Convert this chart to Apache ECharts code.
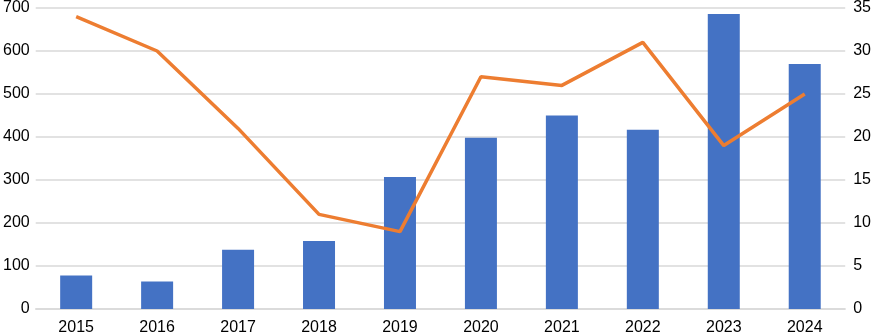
<!DOCTYPE html>
<html>
<head>
<meta charset="utf-8">
<script src="https://cdn.jsdelivr.net/npm/echarts@6/dist/echarts.min.js"></script>
<style>
  html, body { margin: 0; padding: 0; background: #fff; }
  #chart { width: 874px; height: 336px; }
</style>
</head>
<body>
<div id="chart"></div>
<script>
// 年份
var years = ['2015', '2016', '2017', '2018', '2019', '2020', '2021', '2022', '2023', '2024']
// 柱状图（左轴）
var barValues = [78, 64, 138, 158, 307, 398, 450, 417, 686, 570]
// 折线（右轴）
var lineValues = [34, 30, 21, 11, 9, 27, 26, 31, 19, 25]

var myChart = echarts.init(document.getElementById('chart'), null, { renderer: 'canvas' })

var labelStyle = {
  color: '#000',
  fontSize: 16,
  fontFamily: '"Liberation Sans", Arial, sans-serif'
}

myChart.setOption({
  animation: false,
  grid: {
    left: 35,
    right: 25,
    top: 5,
    bottom: 26,
    containLabel: false
  },
  xAxis: {
    type: 'category',
    data: years,
    axisTick: { show: false },
    axisLine: { show: true, lineStyle: { color: '#d9d9d9', width: 1.5 } },
    axisLabel: Object.assign({ margin: 11 }, labelStyle)
  },
  yAxis: [{
    type: 'value',
    min: 0,
    max: 700,
    interval: 100,
    axisLine: { show: false },
    axisTick: { show: false },
    splitLine: { lineStyle: { color: '#d9d9d9', width: 1.5 } },
    axisLabel: Object.assign({ margin: 6 }, labelStyle)
  }, {
    type: 'value',
    min: 0,
    max: 35,
    interval: 5,
    axisLine: { show: false },
    axisTick: { show: false },
    splitLine: { show: false },
    axisLabel: Object.assign({ margin: 8, align: 'left' }, labelStyle)
  }],
  series: [{
    name: 'bar',
    type: 'bar',
    yAxisIndex: 0,
    barWidth: 32,
    itemStyle: { color: '#4472c4' },
    data: barValues
  }, {
    name: 'line',
    type: 'line',
    yAxisIndex: 1,
    symbol: 'none',
    lineStyle: { color: '#ed7d31', width: 3.5 },
    z: 3,
    data: lineValues
  }]
})
</script>
</body>
</html>
